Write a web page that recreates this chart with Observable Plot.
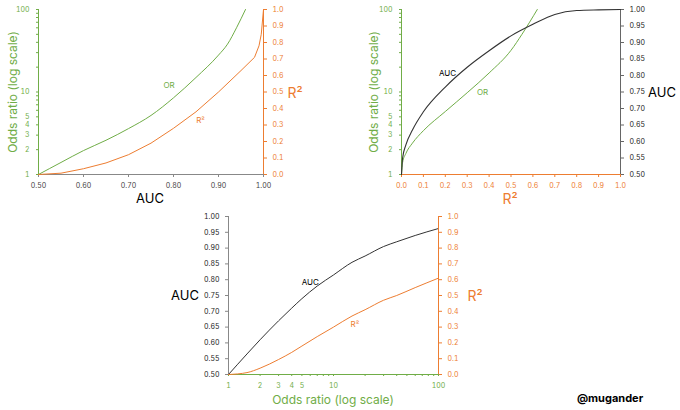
<!DOCTYPE html>
<html><head><meta charset="utf-8">
<script src="https://cdn.jsdelivr.net/npm/d3@7"></script>
<script src="https://cdn.jsdelivr.net/npm/@observablehq/plot@0.6"></script>
<style>
body{margin:0;background:#fff;font-family:Inter,"Noto Sans",sans-serif;}
#root{position:relative;width:680px;height:410px;overflow:hidden;}
.p{position:absolute;}
.lab{position:absolute;white-space:nowrap;}
</style></head><body><div id="root"></div>
<script>
const GREEN="#70AD47", ORANGE="#ED7D31", DARK="#333";
// Panel 1: vs AUC
const p1AUC = [0.5,0.55,0.6,0.65,0.7,0.75,0.8,0.85,0.9,0.92,0.94,0.96];
const p1OR  = [1,1.4,1.95,2.6,3.6,5.2,8.5,15,28,38,60,100];
const p1AUCr= [0.5,0.55,0.6,0.65,0.7,0.75,0.8,0.85,0.9,0.95,0.98,0.99,0.995,1.0];
const p1R2  = [0,0.008,0.035,0.07,0.12,0.19,0.28,0.38,0.5,0.63,0.71,0.78,0.85,1.0];
// Panel 2: vs R2
const p2R2a = [0,0.005,0.02,0.05,0.1,0.2,0.3,0.4,0.5,0.6,0.7,0.8,0.9,1.0];
const p2AUC = [0.5,0.55,0.59,0.635,0.69,0.765,0.825,0.875,0.92,0.955,0.985,0.997,0.999,1.0];
const p2R2o = [0,0.005,0.02,0.05,0.1,0.2,0.3,0.4,0.5,0.55,0.62];
const p2OR  = [1,1.4,1.8,2.4,3.4,5.8,9.8,17,32,50,100];
// Panel 3: vs OR
const p3OR  = [1,1.5,2,3,4,5,7,10,15,20,30,40,60,100];
const p3AUC = [0.5,0.565,0.61,0.67,0.71,0.74,0.78,0.815,0.855,0.875,0.905,0.92,0.94,0.962];
const p3R2  = [0,0.012,0.04,0.095,0.14,0.18,0.24,0.3,0.37,0.41,0.47,0.5,0.55,0.61];
// curve labels
const labels = [
  {panel:1,x:0.79,y:12,text:"OR",c:GREEN},
  {panel:1,x:0.86,y:0.33,text:"R²",c:ORANGE},
  {panel:2,x:0.21,y:0.805,text:"AUC",c:"#000"},
  {panel:2,x:0.37,y:10,text:"OR",c:GREEN},
  {panel:3,x:6,y:0.79,text:"AUC",c:"#000"},
  {panel:3,x:16,y:0.32,text:"R²",c:ORANGE}
];
const logTicks = [1,2,3,4,5,6,7,8,9,10,20,30,40,50,60,70,80,90,100];
const logShown = new Set([1,2,3,4,5,10,100]);
const logFmt = d => logShown.has(d) ? String(d) : "";

const root = document.getElementById("root");
const M = {l:32,r:32,t:6,b:22};
function place(fx, fy, fw, fh, opts){
  const svg = Plot.plot(Object.assign({
    width:fw+M.l+M.r, height:fh+M.t+M.b,
    marginLeft:M.l, marginRight:M.r, marginTop:M.t, marginBottom:M.b,
    style:{background:"transparent",fontSize:"7px",fontFamily:"Inter,sans-serif",overflow:"visible"}
  }, opts));
  svg.classList.add("p");
  svg.style.left=(fx-M.l)+"px"; svg.style.top=(fy-M.t)+"px";
  root.appendChild(svg);
}
function lab(x,y,text,color,size,rot){
  const d=document.createElement("div");d.className="lab";
  d.style.left=x+"px";d.style.top=y+"px";d.style.color=color;d.style.fontSize=size+"px";
  d.style.transform="translate(-50%,-50%)"+(rot?" rotate(-90deg)":"");
  d.textContent=text;root.appendChild(d);
}
const pts=(xs,ys)=>xs.map((x,i)=>({x,y:ys[i]}));
const L = p => labels.filter(d=>d.panel===p);

// ---- Panel 1
const f1=[38,9,225,165];
place(...f1,{
  x:{domain:[0.5,1]},
  y:{type:"log",domain:[1,100]},
  marks:[
    Plot.axisX({ticks:d3.range(0.5,1.001,0.1),tickFormat:".2f",tickSize:3,stroke:"#888",color:"#444",label:null}),
    Plot.axisY({ticks:logTicks,tickFormat:logFmt,tickSize:2,stroke:GREEN,color:GREEN,label:null}),
    Plot.ruleX([0.5],{stroke:GREEN}),
    Plot.ruleY([1],{stroke:"#888"}),
    Plot.line(pts(p1AUC,p1OR),{x:"x",y:"y",stroke:GREEN,strokeWidth:1,curve:"monotone-x"}),
    Plot.text(L(1).filter(d=>d.c===GREEN),{x:"x",y:"y",text:"text",fill:"c",fontSize:8})
  ]});
place(...f1,{
  x:{domain:[0.5,1],axis:null},
  y:{domain:[0,1]},
  marks:[
    Plot.axisY({anchor:"right",ticks:d3.range(0,1.001,0.1),tickFormat:".1f",tickSize:3,stroke:ORANGE,color:ORANGE,label:null}),
    Plot.ruleX([1],{stroke:ORANGE}),
    Plot.line(pts(p1AUCr,p1R2),{x:"x",y:"y",stroke:ORANGE,strokeWidth:1}),
    Plot.text(L(1).filter(d=>d.c===ORANGE),{x:"x",y:"y",text:"text",fill:"c",fontSize:8})
  ]});
lab(12,92,"Odds ratio (log scale)",GREEN,12,true);
lab(295,92,"R²",ORANGE,14);
lab(150,198,"AUC","#000",13);

// ---- Panel 2
const f2=[401,9,219,165];
place(...f2,{
  x:{domain:[0,1]},
  y:{type:"log",domain:[1,100]},
  marks:[
    Plot.axisX({ticks:d3.range(0,1.001,0.1),tickFormat:".1f",tickSize:3,stroke:ORANGE,color:ORANGE,label:null}),
    Plot.axisY({ticks:logTicks,tickFormat:logFmt,tickSize:2,stroke:GREEN,color:GREEN,label:null}),
    Plot.ruleX([0],{stroke:GREEN}),
    Plot.ruleY([1],{stroke:ORANGE}),
    Plot.line(pts(p2R2o,p2OR),{x:"x",y:"y",stroke:GREEN,strokeWidth:1,curve:"monotone-x"}),
    Plot.text(L(2).filter(d=>d.c===GREEN),{x:"x",y:"y",text:"text",fill:"c",fontSize:8})
  ]});
place(...f2,{
  x:{domain:[0,1],axis:null},
  y:{domain:[0.5,1]},
  marks:[
    Plot.axisY({anchor:"right",ticks:d3.range(0.5,1.001,0.05),tickFormat:".2f",tickSize:3,stroke:"#666",color:"#222",label:null}),
    Plot.ruleX([1],{stroke:"#666"}),
    Plot.line(pts(p2R2a,p2AUC),{x:"x",y:"y",stroke:DARK,strokeWidth:1.1,curve:"monotone-x"}),
    Plot.text(L(2).filter(d=>d.c!==GREEN),{x:"x",y:"y",text:"text",fill:"c",fontSize:8})
  ]});
lab(373,92,"Odds ratio (log scale)",GREEN,12,true);
lab(662,92,"AUC","#000",13);
lab(510,198,"R²",ORANGE,14);

// ---- Panel 3
const f3=[228,216,210,158];
place(...f3,{
  x:{type:"log",domain:[1,100]},
  y:{domain:[0.5,1]},
  marks:[
    Plot.axisX({ticks:logTicks,tickFormat:logFmt,tickSize:2,stroke:GREEN,color:GREEN,label:null}),
    Plot.axisY({ticks:d3.range(0.5,1.001,0.05),tickFormat:".2f",tickSize:3,stroke:"#888",color:"#222",label:null}),
    Plot.ruleX([1],{stroke:"#888"}),
    Plot.ruleY([0.5],{stroke:GREEN}),
    Plot.line(pts(p3OR,p3AUC),{x:"x",y:"y",stroke:DARK,strokeWidth:1,curve:"monotone-x"}),
    Plot.text(L(3).filter(d=>d.c!==ORANGE),{x:"x",y:"y",text:"text",fill:"c",fontSize:8})
  ]});
place(...f3,{
  x:{type:"log",domain:[1,100],axis:null},
  y:{domain:[0,1]},
  marks:[
    Plot.axisY({anchor:"right",ticks:d3.range(0,1.001,0.1),tickFormat:".1f",tickSize:3,stroke:ORANGE,color:ORANGE,label:null}),
    Plot.ruleX([100],{stroke:ORANGE}),
    Plot.line(pts(p3OR,p3R2),{x:"x",y:"y",stroke:ORANGE,strokeWidth:1,curve:"monotone-x"}),
    Plot.text(L(3).filter(d=>d.c===ORANGE),{x:"x",y:"y",text:"text",fill:"c",fontSize:8})
  ]});
lab(185,295,"AUC","#000",13);
lab(475,295,"R²",ORANGE,14);
lab(333,399,"Odds ratio (log scale)",GREEN,12);
const m=document.createElement("div");m.className="lab";m.style.left="610px";m.style.top="398px";
m.style.transform="translate(-50%,-50%)";
m.style.fontWeight="bold";m.style.fontSize="11px";m.textContent="@mugander";root.appendChild(m);
</script></body></html>
